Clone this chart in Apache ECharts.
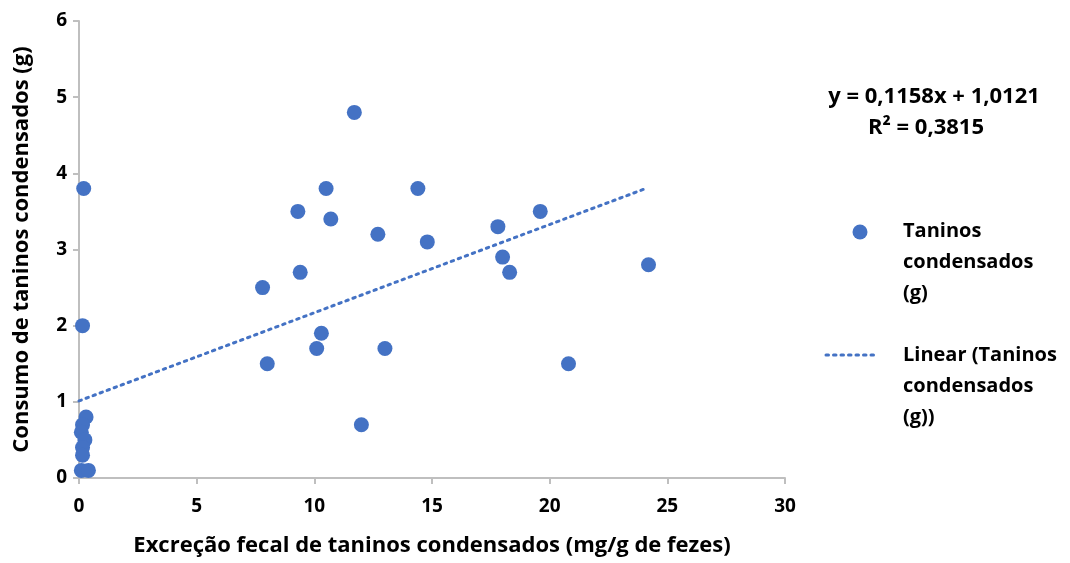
<!DOCTYPE html>
<html>
<head>
<meta charset="utf-8">
<script src="https://cdn.jsdelivr.net/npm/echarts@6/dist/echarts.min.js"></script>
<style>html,body{margin:0;padding:0;background:#fff}#c{width:1070px;height:563px}</style>
</head>
<body>
<div id="c"></div>
<script>
const xValues = [11.7, 0.2, 9.3, 10.5, 10.7, 14.4, 12.7, 14.8, 17.8, 19.6, 18.0, 18.3, 24.2, 9.4, 7.8, 0.15, 10.3, 10.1, 13.0, 8.0, 20.8, 12.0, 0.3, 0.15, 0.1, 0.25, 0.15, 0.15, 0.1, 0.4];
const yValues = [4.8, 3.8, 3.5, 3.8, 3.4, 3.8, 3.2, 3.1, 3.3, 3.5, 2.9, 2.7, 2.8, 2.7, 2.5, 2.0, 1.9, 1.7, 1.7, 1.5, 1.5, 0.7, 0.8, 0.7, 0.6, 0.5, 0.4, 0.3, 0.1, 0.1];
const slope = 0.1158, intercept = 1.0121;
const trendX = [0, 24];
const seriesName = 'Taninos condensados (g)';
const xTitle = 'Excreção fecal de taninos condensados (mg/g de fezes)';
const yTitle = 'Consumo de taninos condensados (g)';
const eqLine1 = 'y = 0,1158x + 1,0121';
const eqLine2 = 'R² = 0,3815';

const FONT = '"Open Sans", sans-serif';
const BLUE = '#4472C4';
const chart = echarts.init(document.getElementById('c'));
const pts = xValues.map((x, i) => [x, yValues[i]]);
const trend = trendX.map(x => [x, slope * x + intercept]);
const axisLabel = {fontFamily: FONT, fontWeight: 'bold', fontSize: 19, color: '#000'};
chart.setOption({
  animation: false,
  grid: {left: 79, right: 285, top: 21, bottom: 85, containLabel: false},
  xAxis: {
    type: 'value', min: 0, max: 30, interval: 5,
    name: xTitle, nameLocation: 'middle', nameGap: 57,
    nameTextStyle: {fontFamily: FONT, fontWeight: 'bold', fontSize: 22, color: '#000'},
    axisLine: {show: true, lineStyle: {color: '#bfbfbf', width: 2}},
    axisTick: {show: true, length: 6, lineStyle: {color: '#bfbfbf', width: 2}},
    axisLabel: Object.assign({margin: 19}, axisLabel),
    splitLine: {show: false}
  },
  yAxis: {
    type: 'value', min: 0, max: 6, interval: 1,
    name: yTitle, nameLocation: 'middle', nameGap: 46, nameRotate: 90,
    nameTextStyle: {fontFamily: FONT, fontWeight: 'bold', fontSize: 22, color: '#000'},
    axisLine: {show: true, lineStyle: {color: '#bfbfbf', width: 2}},
    axisTick: {show: true, length: 6, lineStyle: {color: '#bfbfbf', width: 2}},
    axisLabel: Object.assign({margin: 12}, axisLabel),
    splitLine: {show: false}
  },
  series: [
    {
      name: 'Linear (' + seriesName + ')', type: 'line', data: trend, symbol: 'none',
      lineStyle: {color: BLUE, width: 3, type: [2.5, 5], cap: 'round'}, z: 1
    },
    {
      name: seriesName, type: 'scatter', data: pts, symbolSize: 15,
      itemStyle: {color: BLUE, opacity: 1}, z: 2
    }
  ],
  graphic: [
    {type: 'text', x: 934, y: 97, style: {text: eqLine1, font: 'bold 22px ' + FONT, fill: '#000', align: 'center', verticalAlign: 'middle'}},
    {type: 'text', x: 926, y: 128, style: {text: eqLine2, font: 'bold 22px ' + FONT, fill: '#000', align: 'center', verticalAlign: 'middle'}},
    {type: 'circle', shape: {cx: 860, cy: 232, r: 7.5}, style: {fill: BLUE}},
    {type: 'text', x: 903, y: 216, style: {text: 'Taninos\ncondensados\n(g)', font: 'bold 20px ' + FONT, lineHeight: 31, fill: '#000'}},
    {type: 'line', shape: {x1: 826, y1: 355, x2: 874, y2: 355}, style: {stroke: BLUE, lineWidth: 3, lineDash: [2.5, 5], lineCap: 'round'}},
    {type: 'text', x: 903, y: 340, style: {text: 'Linear (Taninos\ncondensados\n(g))', font: 'bold 20px ' + FONT, lineHeight: 31, fill: '#000'}}
  ]
});
</script>
</body>
</html>
